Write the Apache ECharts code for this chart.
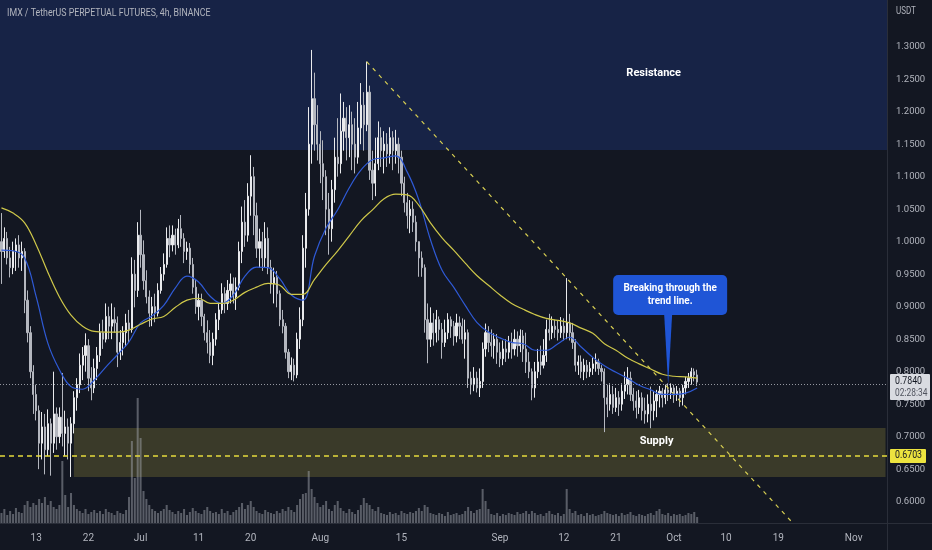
<!DOCTYPE html>
<html><head><meta charset="utf-8">
<script src="https://cdn.jsdelivr.net/npm/echarts@6/dist/echarts.min.js"></script>
<style>html,body{margin:0;padding:0;background:#131722;}#c{width:932px;height:550px;}</style>
</head><body><div id="c"></div>
<script>
const titleText = 'IMX / TetherUS PERPETUAL FUTURES, 4h, BINANCE';
const unitText = 'USDT';
const startDate = Date.UTC(2022, 5, 7);
const periodHours = 12;
const categoryCount = 306;
const tickDates = ['2022-06-13','2022-06-22','2022-07-01','2022-07-11','2022-07-20','2022-08-01','2022-08-15','2022-09-01','2022-09-12','2022-09-21','2022-10-01','2022-10-10','2022-10-19','2022-11-01'];
const tickLabels = ['13','22','Jul','11','20','Aug','15','Sep','12','21','Oct','10','19','Nov'];
const priceTicks = [0.60,0.65,0.70,0.75,0.80,0.85,0.90,0.95,1.00,1.05,1.10,1.15,1.20,1.25,1.30];
const yMin = 0.5672, yMax = 1.3718;

// [open, close, low, high] per 12h
const candles = [
[1.000,0.985,0.935,1.044],[0.985,1.005,0.975,1.022],[1.005,0.975,0.965,1.015],[0.975,0.960,0.945,0.992],
[0.960,0.985,0.950,1.000],[0.985,0.995,0.955,1.005],[0.995,0.975,0.960,1.010],[0.975,0.985,0.955,1.000],
[0.985,0.910,0.890,0.990],[0.910,0.860,0.845,0.925],[0.860,0.800,0.790,0.870],[0.800,0.765,0.735,0.810],
[0.765,0.740,0.725,0.780],[0.740,0.690,0.650,0.748],[0.690,0.715,0.665,0.738],[0.715,0.680,0.642,0.735],
[0.680,0.720,0.670,0.742],[0.720,0.690,0.640,0.728],[0.690,0.735,0.675,0.800],[0.735,0.700,0.680,0.745],
[0.700,0.730,0.690,0.745],[0.730,0.705,0.685,0.798],[0.705,0.715,0.670,0.740],[0.715,0.690,0.665,0.728],
[0.690,0.720,0.638,0.730],[0.720,0.760,0.705,0.770],[0.760,0.780,0.740,0.790],[0.780,0.810,0.767,0.828],
[0.810,0.825,0.787,0.838],[0.825,0.840,0.800,0.859],[0.840,0.790,0.770,0.850],[0.790,0.775,0.756,0.807],
[0.775,0.805,0.767,0.820],[0.805,0.825,0.787,0.838],[0.825,0.860,0.815,0.874],[0.860,0.850,0.835,0.880],
[0.850,0.885,0.845,0.905],[0.885,0.870,0.850,0.900],[0.870,0.880,0.850,0.905],[0.880,0.875,0.860,0.899],
[0.875,0.830,0.807,0.885],[0.830,0.845,0.818,0.864],[0.845,0.860,0.825,0.870],[0.860,0.875,0.838,0.889],
[0.875,0.865,0.845,0.895],[0.865,0.950,0.860,0.976],[0.950,0.925,0.899,0.972],[0.925,1.010,0.915,1.030],
[1.010,0.980,0.960,1.049],[0.980,0.940,0.926,1.002],[0.940,0.915,0.905,0.956],[0.915,0.890,0.869,0.925],
[0.890,0.900,0.870,0.915],[0.900,0.890,0.876,0.920],[0.890,0.925,0.885,0.936],[0.925,0.950,0.920,0.961],
[0.950,0.965,0.940,0.982],[0.965,1.005,0.960,1.022],[1.005,0.995,0.976,1.025],[0.995,1.010,0.985,1.025],
[1.010,0.995,0.980,1.020],[0.995,1.020,0.990,1.035],[1.020,1.005,0.992,1.041],[1.005,0.985,0.967,1.013],
[0.985,0.990,0.972,1.000],[0.990,0.965,0.951,0.998],[0.965,0.930,0.920,0.975],[0.930,0.900,0.889,0.941],
[0.900,0.910,0.879,0.920],[0.910,0.885,0.870,0.920],[0.885,0.860,0.848,0.889],[0.860,0.845,0.828,0.879],
[0.845,0.825,0.813,0.864],[0.825,0.850,0.810,0.860],[0.850,0.880,0.840,0.890],[0.880,0.895,0.864,0.905],
[0.895,0.920,0.889,0.936],[0.920,0.905,0.890,0.930],[0.905,0.925,0.895,0.941],[0.925,0.935,0.905,0.951],
[0.935,0.915,0.905,0.945],[0.915,0.930,0.895,0.945],[0.930,0.985,0.925,1.000],[0.985,1.030,0.967,1.054],
[1.030,1.010,0.992,1.064],[1.010,1.070,1.000,1.090],[1.070,1.100,1.040,1.133],[1.100,1.040,1.010,1.115],
[1.040,0.990,0.975,1.060],[0.990,1.000,0.960,1.020],[1.000,0.975,0.955,1.015],[0.975,1.005,0.960,1.030],
[1.005,0.960,0.950,1.022],[0.960,0.935,0.920,0.972],[0.935,0.945,0.905,0.960],[0.945,0.920,0.899,0.955],
[0.920,0.880,0.870,0.925],[0.880,0.870,0.859,0.895],[0.870,0.830,0.820,0.875],[0.830,0.800,0.790,0.835],
[0.800,0.810,0.787,0.822],[0.810,0.795,0.785,0.820],[0.795,0.850,0.790,0.860],[0.850,0.880,0.835,0.899],
[0.880,0.990,0.870,1.010],[0.990,1.050,0.960,1.075],[1.050,1.150,1.040,1.207],[1.150,1.220,1.120,1.295],
[1.220,1.180,1.140,1.260],[1.180,1.150,1.125,1.210],[1.150,1.120,1.090,1.170],[1.120,1.100,1.064,1.156],
[1.100,1.050,1.010,1.110],[1.050,1.020,0.980,1.075],[1.020,1.080,1.000,1.095],[1.080,1.130,1.060,1.160],
[1.130,1.120,1.100,1.190],[1.120,1.170,1.105,1.228],[1.170,1.190,1.140,1.215],[1.190,1.160,1.125,1.207],
[1.160,1.180,1.130,1.210],[1.180,1.150,1.110,1.200],[1.150,1.130,1.105,1.190],[1.130,1.175,1.120,1.215],
[1.175,1.210,1.150,1.244],[1.210,1.180,1.140,1.230],[1.180,1.230,1.170,1.277],[1.230,1.110,1.095,1.240],
[1.110,1.090,1.064,1.140],[1.090,1.120,1.070,1.160],[1.120,1.160,1.110,1.185],[1.160,1.140,1.115,1.176],
[1.140,1.150,1.105,1.170],[1.150,1.135,1.115,1.167],[1.135,1.160,1.120,1.176],[1.160,1.140,1.110,1.170],
[1.140,1.150,1.120,1.172],[1.150,1.130,1.105,1.160],[1.130,1.090,1.070,1.140],[1.090,1.060,1.045,1.100],
[1.060,1.040,1.020,1.075],[1.040,1.050,1.013,1.064],[1.050,1.030,1.015,1.062],[1.030,1.000,0.985,1.040],
[1.000,0.975,0.946,0.992],[0.975,0.960,0.946,0.985],[0.960,0.880,0.860,0.965],[0.880,0.850,0.813,0.905],
[0.850,0.875,0.838,0.899],[0.875,0.860,0.840,0.890],[0.860,0.880,0.845,0.895],[0.880,0.865,0.848,0.885],
[0.865,0.845,0.820,0.875],[0.845,0.860,0.838,0.880],[0.860,0.880,0.850,0.890],[0.880,0.870,0.852,0.885],
[0.870,0.855,0.840,0.878],[0.855,0.875,0.845,0.889],[0.875,0.870,0.850,0.885],[0.870,0.850,0.843,0.882],
[0.850,0.860,0.820,0.880],[0.860,0.790,0.775,0.865],[0.790,0.780,0.765,0.800],[0.780,0.790,0.770,0.807],
[0.790,0.775,0.768,0.800],[0.775,0.785,0.761,0.805],[0.785,0.835,0.775,0.845],[0.835,0.860,0.823,0.874],
[0.860,0.845,0.830,0.870],[0.845,0.840,0.823,0.865],[0.840,0.850,0.820,0.859],[0.850,0.830,0.812,0.858],
[0.830,0.820,0.807,0.845],[0.820,0.835,0.810,0.848],[0.835,0.830,0.815,0.850],[0.830,0.845,0.820,0.855],
[0.845,0.835,0.820,0.860],[0.835,0.850,0.825,0.865],[0.850,0.840,0.823,0.862],[0.840,0.855,0.830,0.865],
[0.855,0.835,0.815,0.864],[0.835,0.815,0.798,0.860],[0.815,0.800,0.790,0.830],[0.800,0.775,0.756,0.805],
[0.775,0.800,0.760,0.815],[0.800,0.815,0.790,0.835],[0.815,0.810,0.795,0.840],[0.810,0.825,0.805,0.850],
[0.825,0.865,0.815,0.880],[0.865,0.860,0.848,0.889],[0.860,0.870,0.850,0.885],[0.870,0.865,0.852,0.880],
[0.865,0.860,0.848,0.878],[0.860,0.870,0.852,0.884],[0.870,0.860,0.848,0.882],[0.860,0.875,0.850,0.944],
[0.875,0.860,0.848,0.889],[0.860,0.845,0.835,0.875],[0.845,0.810,0.800,0.850],[0.810,0.815,0.795,0.825],
[0.815,0.800,0.790,0.825],[0.800,0.810,0.787,0.820],[0.810,0.800,0.790,0.818],[0.800,0.805,0.792,0.815],
[0.805,0.812,0.795,0.822],[0.812,0.815,0.800,0.828],[0.815,0.805,0.795,0.820],[0.805,0.800,0.785,0.810],
[0.800,0.760,0.707,0.805],[0.760,0.750,0.730,0.780],[0.750,0.765,0.740,0.782],[0.765,0.745,0.735,0.778],
[0.745,0.760,0.738,0.775],[0.760,0.750,0.732,0.770],[0.750,0.770,0.740,0.782],[0.770,0.780,0.758,0.800],
[0.780,0.790,0.765,0.807],[0.790,0.765,0.755,0.800],[0.765,0.755,0.740,0.775],[0.755,0.745,0.728,0.770],
[0.745,0.760,0.735,0.772],[0.760,0.740,0.725,0.768],[0.740,0.735,0.720,0.760],[0.735,0.750,0.722,0.765],
[0.750,0.740,0.713,0.777],[0.740,0.755,0.725,0.770],[0.755,0.765,0.730,0.772],[0.765,0.770,0.745,0.778],
[0.770,0.760,0.745,0.775],[0.760,0.772,0.750,0.780],[0.772,0.768,0.755,0.782],[0.768,0.775,0.758,0.782],
[0.775,0.765,0.752,0.780],[0.765,0.770,0.755,0.778],[0.770,0.760,0.746,0.775],[0.760,0.775,0.748,0.780],
[0.775,0.785,0.765,0.792],[0.785,0.790,0.775,0.798],[0.790,0.800,0.780,0.806],[0.800,0.795,0.785,0.805],
[0.795,0.784,0.778,0.803]
];

const volumes = [
10,14,8,12,9,15,11,10,18,22,16,20,18,24,20,26,18,22,16,14,18,62,28,16,30,18,14,
12,10,14,9,11,13,10,12,9,14,11,10,8,12,10,9,13,26,82,45,125,85,32,24,18,14,12,
10,12,14,18,13,11,9,12,10,14,8,11,15,12,10,9,13,16,12,10,11,9,14,10,12,8,11,13,
16,20,14,18,22,16,12,10,9,13,11,10,9,12,10,14,12,16,13,11,18,24,29,30,52,34,26,20,
16,18,22,14,12,18,22,15,12,10,14,11,9,13,18,25,20,18,14,12,16,10,9,8,11,9,10,8,
12,10,9,11,10,12,15,12,18,16,10,9,8,10,9,7,11,8,9,10,8,9,12,16,12,10,13,14,34,22,
14,9,8,10,7,9,8,10,9,8,11,9,10,12,9,12,10,8,9,7,10,12,9,8,10,7,9,34,14,10,12,
8,9,7,10,8,9,7,8,9,12,10,9,8,9,7,10,8,9,11,8,7,9,8,7,9,10,8,12,14,9,8,10,7,9,8,
9,7,8,10,9,11,6
];
const volAxisMax = 523;

const maStep = 4;
const maFast = [0.987,0.986,0.975,0.915,0.844,0.803,0.777,0.773,0.787,0.807,0.826,0.846,0.875,0.886,0.902,0.929,0.947,0.938,0.916,0.905,0.918,0.947,0.961,0.960,0.943,0.918,0.910,0.978,1.021,1.049,1.083,1.110,1.126,1.129,1.132,1.107,1.064,1.003,0.956,0.930,0.902,0.876,0.861,0.852,0.845,0.843,0.833,0.833,0.843,0.853,0.838,0.822,0.809,0.799,0.790,0.779,0.772,0.765,0.765,0.767,0.775];
const maSlow = [1.052,1.044,1.029,0.995,0.953,0.915,0.887,0.870,0.862,0.861,0.861,0.864,0.873,0.881,0.885,0.899,0.910,0.913,0.905,0.905,0.910,0.922,0.930,0.936,0.933,0.919,0.919,0.942,0.965,0.986,1.009,1.032,1.049,1.066,1.073,1.072,1.056,1.029,1.006,0.987,0.967,0.948,0.933,0.918,0.905,0.896,0.888,0.882,0.879,0.875,0.867,0.859,0.843,0.833,0.821,0.812,0.804,0.796,0.793,0.792,0.790];

const resistanceZone = [1.141, yMax];
const supplyZone = [0.638, 0.7134];
const supplyStartIdx = 25;
const keyLevel = 0.6703;
const lastPrice = 0.7840;
const countdownText = '02:28:34';
const trendStart = [126, 1.277];
const trendEnd = [273, yMin];
const resistanceLabel = {text: 'Resistance', at: [225, 1.2595]};
const supplyLabel = {text: 'Supply', at: [226, 0.6934]};
const callout = {text: 'Breaking through the\ntrend line.', tip: [230, 0.7795]};

const FONT = 'Roboto, "Liberation Sans", sans-serif';
const TXT = '#b2b5be';
const NARROW = 0.8;

const categories = [];
for (let i = 0; i < categoryCount; i++) {
  categories.push(new Date(startDate + i * periodHours * 3600e3).toISOString().slice(0, 16));
}
const tickIdx = {};
tickDates.forEach((d, k) => {
  const idx = Math.round((Date.parse(d + 'T00:00:00Z') - startDate) / (periodHours * 3600e3));
  tickIdx[idx] = tickLabels[k];
});
const maFastData = categories.map(() => '-');
const maSlowData = categories.map(() => '-');
maFast.forEach((v, k) => { maFastData[k * maStep] = v; });
maSlow.forEach((v, k) => { maSlowData[k * maStep] = v; });

const chart = echarts.init(document.getElementById('c'), null, {renderer: 'canvas'});
chart.setOption({
  backgroundColor: '#131722',
  animation: false,
  grid: {left: 0, right: 45, top: 0, bottom: 27},
  xAxis: {
    type: 'category', data: categories, boundaryGap: true,
    axisLine: {show: true, lineStyle: {color: '#2a2e39'}},
    axisTick: {show: false}, splitLine: {show: false},
    axisLabel: {
      interval: (idx) => tickIdx[idx] !== undefined,
      formatter: (v, idx) => tickIdx[idx] || '',
      color: TXT, fontSize: 10, fontFamily: FONT, margin: 10
    }
  },
  yAxis: [{
    type: 'value', position: 'right', min: yMin, max: yMax, scale: true,
    axisLine: {show: true, lineStyle: {color: '#2a2e39'}},
    axisTick: {show: false}, splitLine: {show: false},
    axisLabel: {customValues: priceTicks, formatter: (v) => v.toFixed(4), color: TXT, fontSize: 9.5, fontFamily: FONT, margin: 9}
  }, {
    type: 'value', min: 0, max: volAxisMax, show: false
  }],
  series: [
    {
      type: 'line', data: [], z: 1, silent: true,
      markArea: {
        silent: true,
        data: [
          [{yAxis: resistanceZone[0], itemStyle: {color: '#172346'}}, {yAxis: resistanceZone[1]}],
          [{xAxis: supplyStartIdx, yAxis: supplyZone[1], itemStyle: {color: '#3a3a29'}}, {xAxis: categoryCount - 1, yAxis: supplyZone[0]}]
        ]
      }
    },
    {
      type: 'bar', yAxisIndex: 1, data: volumes, z: 2, barWidth: '70%',
      itemStyle: {color: 'rgba(160,163,172,0.5)'}
    },
    {
      type: 'candlestick', data: candles, z: 4, barWidth: '58%',
      itemStyle: {color: '#e9eaed', color0: '#b4b7bf', borderColor: '#e9eaed', borderColor0: '#b4b7bf', borderWidth: 1},
      markLine: {
        silent: true, symbol: 'none', animation: false,
        label: {show: false},
        data: [
          [{coord: trendStart, lineStyle: {color: '#d8cf52', type: [4, 5], width: 1.2}}, {coord: trendEnd}],
          {yAxis: keyLevel, lineStyle: {color: '#e6dc3c', type: [5, 4], width: 1.5}},
          {yAxis: lastPrice, lineStyle: {color: '#9598a1', type: [1, 2], width: 1}}
        ]
      }
    },
    {
      type: 'line', data: maFastData, connectNulls: true, smooth: 0.4, showSymbol: false, z: 5,
      lineStyle: {color: '#2f5ad6', width: 1.2}
    },
    {
      type: 'line', data: maSlowData, connectNulls: true, smooth: 0.4, showSymbol: false, z: 5,
      lineStyle: {color: '#cfc84a', width: 1.2},
      markPoint: {
        symbol: 'rect', symbolSize: 1, itemStyle: {color: 'rgba(0,0,0,0)'},
        label: {show: true, position: 'inside', color: '#ffffff', fontWeight: 'bold', fontSize: 11, fontFamily: FONT, formatter: (p) => p.name},
        data: [
          {name: resistanceLabel.text, coord: resistanceLabel.at},
          {name: supplyLabel.text, coord: supplyLabel.at}
        ]
      }
    }
  ]
});

function draw() {
  const tip = chart.convertToPixel({gridIndex: 0}, callout.tip);
  const yLast = chart.convertToPixel({yAxisIndex: 0}, lastPrice);
  const yKey = chart.convertToPixel({yAxisIndex: 0}, keyLevel);
  const axisX = 932 - 45;
  const bx = tip[0] - 55, by = tip[1] - 110, bw = 114, bh = 40;
  chart.setOption({
    graphic: [
      {type: 'text', x: 7, y: 8, z: 100, scaleX: NARROW, style: {text: titleText, fill: TXT, font: '11px ' + FONT}},
      {type: 'text', x: axisX + 9, y: 6, z: 100, scaleX: NARROW, style: {text: unitText, fill: TXT, font: '10px ' + FONT}},
      {type: 'line', z: 100, shape: {x1: axisX + 0.5, y1: 0, x2: axisX + 0.5, y2: 550}, style: {stroke: '#2a2e39', lineWidth: 1}},
      {type: 'line', z: 100, shape: {x1: 0, y1: 523.5, x2: 932, y2: 523.5}, style: {stroke: '#2a2e39', lineWidth: 1}},
      {type: 'polygon', z: 100, shape: {points: [[tip[0] - 4, by + bh - 1], [tip[0] + 4, by + bh - 1], [tip[0], tip[1]]]}, style: {fill: '#1f55d6'}},
      {type: 'rect', z: 100, shape: {x: bx, y: by, width: bw, height: bh, r: 5}, style: {fill: '#1f55d6'}},
      {type: 'text', z: 101, x: bx + bw / 2, y: by + bh / 2, scaleX: 0.86,
        style: {text: callout.text, fill: '#ffffff', font: 'bold 11.5px ' + FONT, align: 'center', verticalAlign: 'middle', lineHeight: 13}},
      {type: 'rect', z: 100, shape: {x: axisX + 3, y: yLast - 8, width: 40, height: 26, r: 1}, style: {fill: '#d9dbe1'}},
      {type: 'text', z: 101, x: axisX + 8, y: yLast - 6, scaleX: NARROW, style: {text: lastPrice.toFixed(4), fill: '#131722', font: '11px ' + FONT}},
      {type: 'text', z: 101, x: axisX + 8, y: yLast + 6, scaleX: NARROW, style: {text: countdownText, fill: '#50535e', font: '10.5px ' + FONT}},
      {type: 'rect', z: 100, shape: {x: axisX + 3, y: yKey - 7, width: 36, height: 14, r: 1}, style: {fill: '#ece33f'}},
      {type: 'text', z: 101, x: axisX + 8, y: yKey - 6, scaleX: NARROW, style: {text: keyLevel.toFixed(4), fill: '#131722', font: '11px ' + FONT}}
    ]
  });
}
draw();
</script>
</body></html>
